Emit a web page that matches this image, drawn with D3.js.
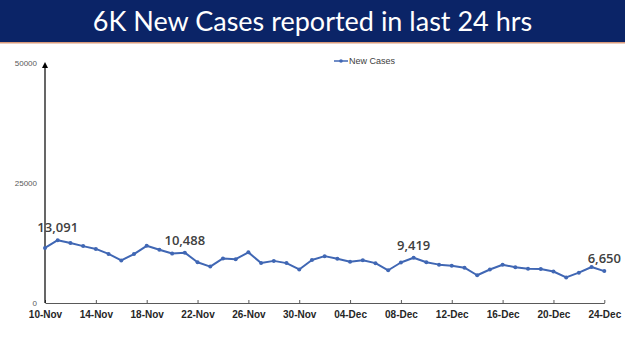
<!DOCTYPE html>
<html>
<head>
<meta charset="utf-8">
<script src="https://cdn.jsdelivr.net/npm/d3@7"></script>
<style>
  html, body { margin: 0; padding: 0; background: #fff; }
  svg { display: block; }
</style>
</head>
<body>
<div id="chart"></div>
<script>
// daily new cases, 10-Nov .. 24-Dec
const dates = [
  "10-Nov", "11-Nov", "12-Nov", "13-Nov", "14-Nov", "15-Nov", "16-Nov", "17-Nov",
  "18-Nov", "19-Nov", "20-Nov", "21-Nov", "22-Nov", "23-Nov", "24-Nov", "25-Nov",
  "26-Nov", "27-Nov", "28-Nov", "29-Nov", "30-Nov", "01-Dec", "02-Dec", "03-Dec",
  "04-Dec", "05-Dec", "06-Dec", "07-Dec", "08-Dec", "09-Dec", "10-Dec", "11-Dec",
  "12-Dec", "13-Dec", "14-Dec", "15-Dec", "16-Dec", "17-Dec", "18-Dec", "19-Dec",
  "20-Dec", "21-Dec", "22-Dec", "23-Dec", "24-Dec"
];
const newCases = [
  11466, 13091, 12516, 11850, 11271, 10229, 8865, 10197,
  11919, 11106, 10302, 10488, 8488, 7579, 9283, 9119,
  10549, 8318, 8774, 8309, 6990, 8954, 9765, 9216,
  8603, 8895, 8306, 6822, 8439, 9419, 8503, 7992,
  7774, 7350, 5784, 6984, 7974, 7447, 7145, 7081,
  6563, 5326, 6317, 7495, 6650
];
const tickDates = ["10-Nov", "14-Nov", "18-Nov", "22-Nov", "26-Nov", "30-Nov",
  "04-Dec", "08-Dec", "12-Dec", "16-Dec", "20-Dec", "24-Dec"];
const yTicks = [0, 25000, 50000];
const labelled = ["11-Nov", "21-Nov", "09-Dec", "24-Dec"];
const titleText = "6K New Cases reported in last 24 hrs";
const seriesName = "New Cases";

const width = 625, height = 351;
const LINE_COLOR = "#4067b4";
const TEXT_DARK = "#404040";

const svg = d3.select("#chart").append("svg")
  .attr("width", width).attr("height", height);

// title band
svg.append("rect").attr("x", 0).attr("y", 0).attr("width", width).attr("height", 42)
  .attr("fill", "#0b2467");
svg.append("rect").attr("x", 0).attr("y", 42).attr("width", width).attr("height", 1.5)
  .attr("fill", "#d99a7a");
svg.append("text")
  .attr("x", width / 2).attr("y", 31)
  .attr("text-anchor", "middle")
  .attr("fill", "#fff")
  .style("font-family", "Lato, 'Open Sans', sans-serif")
  .style("font-size", "27px")
  .text(titleText);

const x = d3.scalePoint().domain(dates).range([45, 604.3]);
const y = d3.scaleLinear().domain([0, 50000]).range([303, 63]);

// x axis
const xAxis = svg.append("g")
  .attr("transform", `translate(0,${y(0)})`)
  .call(d3.axisBottom(x).tickValues(tickDates).tickSize(-3).tickSizeOuter(0).tickPadding(8));
xAxis.select(".domain").attr("stroke", "#595959").attr("stroke-width", 1);
xAxis.selectAll(".tick line").attr("stroke", "#595959");
xAxis.selectAll(".tick text")
  .attr("fill", "#262626")
  .style("font-family", "'Liberation Sans', Arial, sans-serif")
  .style("font-size", "10px")
  .style("font-weight", "bold");

// y axis with arrow
svg.append("defs").append("marker")
  .attr("id", "arrow").attr("viewBox", "0 0 10 10")
  .attr("refX", 5).attr("refY", 5)
  .attr("markerWidth", 5).attr("markerHeight", 6)
  .attr("orient", "auto")
  .append("path").attr("d", "M0,0 L10,5 L0,10 z").attr("fill", "#000");
svg.append("line")
  .attr("x1", x(dates[0])).attr("x2", x(dates[0]))
  .attr("y1", y(0)).attr("y2", y(50000) + 2)
  .attr("stroke", "#000").attr("stroke-width", 1.2)
  .attr("marker-end", "url(#arrow)");
svg.selectAll(".ylab").data(yTicks).enter().append("text")
  .attr("class", "ylab")
  .attr("x", 37).attr("y", (d) => y(d))
  .attr("dy", "0.35em")
  .attr("text-anchor", "end")
  .attr("fill", "#595959")
  .style("font-family", "'Liberation Sans', Arial, sans-serif")
  .style("font-size", "8px")
  .text((d) => d);

// series
const line = d3.line().x((d, i) => x(dates[i])).y((d) => y(d));
svg.append("path").datum(newCases)
  .attr("fill", "none").attr("stroke", LINE_COLOR)
  .attr("stroke-width", 2).attr("stroke-linejoin", "round")
  .attr("d", line);
svg.selectAll(".dot").data(newCases).enter().append("circle")
  .attr("class", "dot")
  .attr("cx", (d, i) => x(dates[i])).attr("cy", (d) => y(d))
  .attr("r", 2).attr("fill", LINE_COLOR);

// data labels
svg.selectAll(".dlab").data(labelled).enter().append("text")
  .attr("class", "dlab")
  .attr("x", (d) => x(d))
  .attr("y", (d) => y(newCases[dates.indexOf(d)]) - 8)
  .attr("text-anchor", "middle")
  .attr("fill", TEXT_DARK)
  .style("font-family", "'Open Sans', sans-serif")
  .style("font-size", "13px")
  .style("font-weight", "600")
  .text((d) => d3.format(",")(newCases[dates.indexOf(d)]));

// legend
const legend = svg.append("g").attr("transform", "translate(334,61)");
legend.append("line").attr("x1", 0).attr("x2", 14).attr("y1", 0).attr("y2", 0)
  .attr("stroke", LINE_COLOR).attr("stroke-width", 1.5);
legend.append("circle").attr("cx", 7).attr("cy", 0).attr("r", 1.8).attr("fill", LINE_COLOR);
legend.append("text").attr("x", 15).attr("y", 0).attr("dy", "0.35em")
  .attr("fill", TEXT_DARK)
  .style("font-family", "'Liberation Sans', Arial, sans-serif")
  .style("font-size", "9px")
  .text(seriesName);
</script>
</body>
</html>
